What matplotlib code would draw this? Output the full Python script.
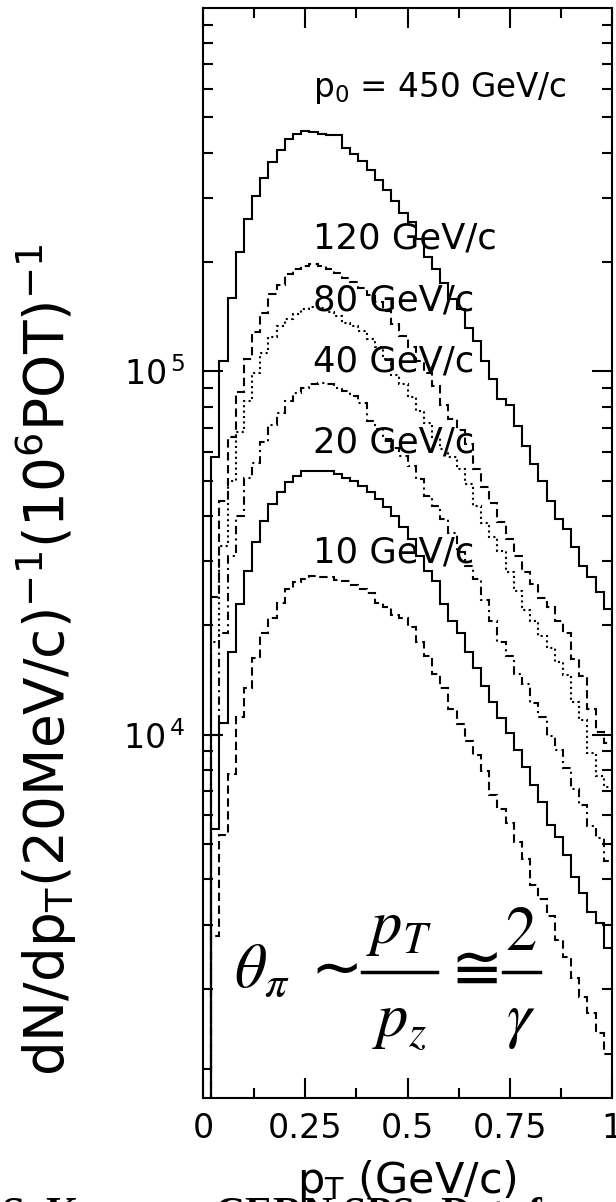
import numpy as np
import matplotlib
matplotlib.use("Agg")
import matplotlib.pyplot as plt
from matplotlib.lines import Line2D
from matplotlib.ticker import FixedLocator, LogLocator, NullFormatter, FixedFormatter

# ---------------- data ----------------
# p_T bins of 20 MeV/c from 0 to 1 GeV/c
bin_lo = 0.0
bin_hi = 1.0
n_bins = 50

n450 = [1.2e3, 5.8e4, 1.07e5, 1.59e5, 2.13e5, 2.63e5, 3.04e5, 3.40e5, 3.76e5, 4.07e5,
        4.36e5, 4.51e5, 4.60e5, 4.57e5, 4.51e5, 4.48e5, 4.48e5, 4.12e5, 3.97e5, 3.79e5,
        3.59e5, 3.37e5, 3.16e5, 2.94e5, 2.72e5, 2.57e5, 2.31e5, 2.07e5, 1.91e5, 1.75e5,
        1.58e5, 1.48e5, 1.32e5, 1.21e5, 1.07e5, 9.5e4, 8.4e4, 8.07e4, 7.08e4, 6.24e4,
        5.56e4, 5.0e4, 4.41e4, 3.92e4, 3.68e4, 3.28e4, 2.92e4, 2.71e4, 2.47e4, 2.22e4]

n120 = [8e2, 2.4e4, 4.4e4, 6.6e4, 8.8e4, 1.08e5, 1.28e5, 1.45e5, 1.63e5, 1.73e5,
        1.85e5, 1.91e5, 1.95e5, 1.98e5, 1.95e5, 1.91e5, 1.87e5, 1.81e5, 1.76e5, 1.70e5,
        1.62e5, 1.55e5, 1.47e5, 1.35e5, 1.25e5, 1.17e5, 1.07e5, 9.9e4, 9.1e4, 8.1e4,
        7.4e4, 6.9e4, 6.3e4, 5.4e4, 4.8e4, 4.35e4, 3.85e4, 3.45e4, 3.1e4, 2.8e4,
        2.6e4, 2.38e4, 2.25e4, 2.05e4, 1.9e4, 1.62e4, 1.45e4, 1.18e4, 1.02e4, 9.5e3]

n80 = [5e2, 1.8e4, 3.3e4, 5.0e4, 6.8e4, 8.3e4, 9.9e4, 1.12e5, 1.24e5, 1.33e5,
       1.39e5, 1.44e5, 1.48e5, 1.50e5, 1.49e5, 1.46e5, 1.42e5, 1.36e5, 1.33e5, 1.29e5,
       1.23e5, 1.17e5, 1.08e5, 9.8e4, 9.2e4, 8.5e4, 7.8e4, 7.2e4, 6.6e4, 6.1e4,
       5.8e4, 5.4e4, 4.9e4, 4.25e4, 3.83e4, 3.5e4, 3.2e4, 2.8e4, 2.49e4, 2.21e4,
       2.05e4, 1.87e4, 1.73e4, 1.58e4, 1.46e4, 1.23e4, 1.1e4, 8.9e3, 7.7e3, 7.2e3]

n40 = [4e2, 1.0e4, 1.9e4, 3.1e4, 4.0e4, 5.1e4, 5.6e4, 6.4e4, 7.1e4, 7.7e4,
       8.3e4, 8.7e4, 9.0e4, 9.2e4, 9.3e4, 9.2e4, 9.0e4, 8.83e4, 8.56e4, 8.2e4,
       7.3e4, 6.93e4, 6.5e4, 6.17e4, 5.85e4, 5.5e4, 5.05e4, 4.55e4, 4.27e4, 3.92e4,
       3.6e4, 3.18e4, 2.92e4, 2.68e4, 2.35e4, 2.05e4, 1.8e4, 1.65e4, 1.47e4, 1.38e4,
       1.22e4, 1.12e4, 9.9e3, 9.1e3, 8.1e3, 7.1e3, 6.4e3, 5.6e3, 5.2e3, 4.5e3]

n20 = [3e2, 5.5e3, 1.08e4, 1.69e4, 2.29e4, 2.83e4, 3.38e4, 3.88e4, 4.31e4, 4.64e4,
       4.95e4, 5.16e4, 5.32e4, 5.32e4, 5.32e4, 5.32e4, 5.21e4, 5.10e4, 5.0e4, 4.84e4,
       4.64e4, 4.45e4, 4.22e4, 4.0e4, 3.72e4, 3.45e4, 3.11e4, 2.83e4, 2.65e4, 2.29e4,
       2.06e4, 1.91e4, 1.69e4, 1.53e4, 1.36e4, 1.23e4, 1.11e4, 1.01e4, 9.06e3, 8.15e3,
       7.26e3, 6.53e3, 5.63e3, 5.23e3, 4.66e3, 4.06e3, 3.66e3, 3.26e3, 3.03e3, 2.58e3]

n10 = [2e2, 2.8e3, 5.3e3, 7.8e3, 1.12e4, 1.34e4, 1.63e4, 1.91e4, 2.10e4, 2.31e4,
       2.52e4, 2.63e4, 2.68e4, 2.74e4, 2.71e4, 2.71e4, 2.67e4, 2.65e4, 2.58e4, 2.52e4,
       2.46e4, 2.31e4, 2.24e4, 2.14e4, 2.09e4, 1.98e4, 1.80e4, 1.65e4, 1.47e4, 1.34e4,
       1.18e4, 1.07e4, 9.6e3, 8.78e3, 7.93e3, 6.81e3, 6.26e3, 5.7e3, 5.05e3, 4.56e3,
       3.86e3, 3.54e3, 3.16e3, 2.72e3, 2.45e3, 2.14e3, 1.90e3, 1.71e3, 1.51e3, 1.32e3]

curve_labels = ["p$_{0}$ = 450 GeV/c", "120 GeV/c", "80 GeV/c",
                "40 GeV/c", "20 GeV/c", "10 GeV/c"]

x_ticks = [0, 0.25, 0.5, 0.75, 1]
x_ticklabels = ["0", "0.25", "0.5", "0.75", "1"]
x_minor = [0.125, 0.375, 0.625, 0.875]
y_ticks = [1e4, 1e5]
y_ticklabels = ["$10^{\\,4}$", "$10^{\\,5}$"]

xlabel = "p$_{\\rm T}$ (GeV/c)"
ylabel = "dN/dp$_{\\rm T}$(20MeV/c)$^{-1}$(10$^{6}$POT)$^{-1}$"
# formula  theta_pi ~ p_T / p_z  =~  2 / gamma, as separate pieces
f_theta = r"$\mathit{\theta}_{\mathit{\pi}}$"
f_sim = r"$\sim$"
f_num1 = r"$\mathit{p}_{\mathit{T}}$"
f_den1 = r"$\mathit{p}_{\mathit{z}}$"
f_cong = r"$\cong$"
f_num2 = r"$\mathrm{2}$"
f_den2 = r"$\mathit{\gamma}$"
footer_parts = ["S. Kopp", "CERN SPS", "Data", "from"]

# ---------------- figure ----------------
plt.rcParams["font.family"] = ["DejaVu Sans"]
plt.rcParams["mathtext.default"] = "regular"

W, H = 616, 1202
fig = plt.figure(figsize=(W / 100, H / 100), dpi=100)
ax = fig.add_axes([203 / W, 1 - 1098 / H, (612 - 203) / W, (1098 - 8) / H])

edges = np.linspace(bin_lo, bin_hi, n_bins + 1)
lw = 1.5
series = [
    (n450, "-"),
    (n120, (0, (4, 2.2))),
    (n80, (0, (1.0, 1.6))),
    (n40, (0, (4, 2, 1, 2))),
    (n20, "-"),
    (n10, (0, (4, 2.2))),
]
for vals, ls in series:
    ax.stairs(vals, edges, baseline=None, color="black", lw=lw, linestyle=ls)

ax.set_yscale("log")
ax.set_xlim(0, 1)
ax.set_ylim(1e3, 1e6)

ax.xaxis.set_major_locator(FixedLocator(x_ticks))
ax.xaxis.set_major_formatter(FixedFormatter(x_ticklabels))
ax.xaxis.set_minor_locator(FixedLocator(x_minor))
ax.yaxis.set_major_locator(FixedLocator(y_ticks))
ax.yaxis.set_major_formatter(FixedFormatter(y_ticklabels))
ax.yaxis.set_minor_locator(LogLocator(base=10, subs=(2, 3, 4, 5, 6, 7, 8, 9)))
ax.yaxis.set_minor_formatter(NullFormatter())

ax.tick_params(which="both", direction="in", top=True, right=True, width=1.5,
               labelsize=24)
ax.tick_params(which="major", length=14.5)
ax.tick_params(which="minor", length=7.2)
ax.tick_params(axis="x", which="major", pad=10)
ax.tick_params(axis="y", which="major", pad=13)
for sp in ax.spines.values():
    sp.set_linewidth(1.5)

# curve labels (baseline positions in pixels)
label_x = 313
label_base = [97, 248, 310, 372, 453, 562]
label_size = [23.5, 25.5, 25.5, 25.5, 25.5, 25.5]
for txt, yb, fs in zip(curve_labels, label_base, label_size):
    fig.text(label_x / W, 1 - yb / H, txt, fontsize=fs, ha="left", va="baseline")

fig.text(46 / W, 1 - 660 / H, ylabel, rotation=90, fontsize=39.5,
         ha="center", va="center")
fig.text(407 / W, 1 - 1193 / H, xlabel, fontsize=31, ha="center", va="baseline")

# ---- formula ----
ffs = 45


def ftext(x, yb, s, ha="center"):
    fig.text(x / W, 1 - yb / H, s, fontsize=ffs, ha=ha, va="baseline",
             math_fontfamily="stix")


ftext(234, 987, f_theta, ha="left")
ftext(329, 986, f_sim)
ftext(399, 943, f_num1)
ftext(399, 1036, f_den1)
ftext(469, 988, f_cong)
ftext(521, 950, f_num2)
ftext(521, 1036, f_den2)
for x0, x1 in [(362, 437), (503, 540)]:
    fig.add_artist(Line2D([x0 / W, x1 / W], [1 - 972 / H, 1 - 972 / H],
                          transform=fig.transFigure, color="black", lw=2.5))

# footer line of the slide, cut by the lower edge of the picture
footer_x = [2, 215, 440, 528]
for txt, xp in zip(footer_parts, footer_x):
    fig.text(xp / W, 1 - 1226 / H, txt, fontsize=30, ha="left", va="baseline",
             family="Liberation Serif", weight="bold")

fig.savefig("out.png", dpi=100)
